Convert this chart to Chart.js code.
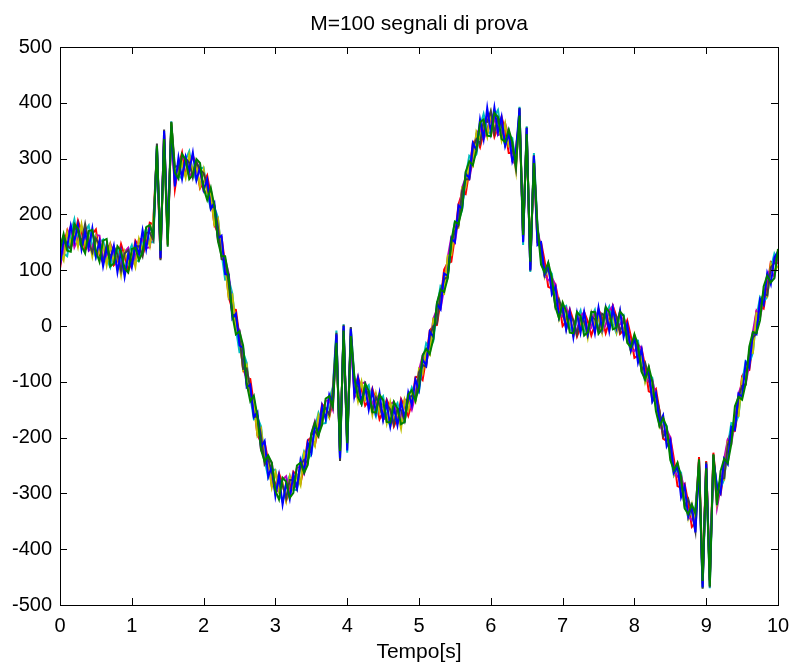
<!DOCTYPE html>
<html><head><meta charset="utf-8">
<script src="https://cdn.jsdelivr.net/npm/chart.js@4.4.1/dist/chart.umd.min.js"></script>
<style>html,body{margin:0;padding:0;background:#fff;}canvas{display:block;}</style>
</head><body>
<canvas id="c" width="792" height="663" style="width:792px;height:663px"></canvas>
<script>
const FONT = "'Liberation Sans', Arial, Helvetica, sans-serif";
const titolo = 'M=100 segnali di prova';
const etichettaX = 'Tempo[s]';
const passo = 0.05; // campionamento del tempo [s]
const tempo = Array.from({length: 201}, (_, i) => Math.round(i * passo * 100) / 100);
const tickX = [0, 1, 2, 3, 4, 5, 6, 7, 8, 9, 10];
const tickY = [-500, -400, -300, -200, -100, 0, 100, 200, 300, 400, 500];

const serieBlu = [
108,155,142,180,151,182,137,168,140,175,125,152,107,139,117,144,96,134,88,128,
105,148,128,172,137,178,164,320,122,350,155,357,250,302,264,303,278,311,261,284,
244,263,210,221,157,162,93,92,13,22,-35,-39,-110,-105,-163,-154,-217,-206,-270,-252,
-305,-268,-320,-281,-310,-266,-290,-240,-260,-209,-228,-178,-190,-143,-167,-123,-140,-15,-237,0,
-223,-5,-125,-93,-136,-108,-150,-116,-155,-120,-168,-137,-180,-146,-178,-136,-165,-119,-142,-96,
-115,-60,-71,-10,-20,40,30,94,90,157,150,216,210,273,265,328,315,370,335,391,
347,392,347,375,323,347,295,315,390,150,355,100,305,145,150,93,112,57,70,16,
37,-6,26,-20,23,-12,25,-14,20,-13,33,-5,32,-9,32,-3,28,-20,3,-43,
-20,-66,-42,-93,-77,-135,-120,-175,-160,-216,-204,-263,-250,-307,-287,-342,-323,-370,-250,-468,
-247,-455,-240,-288,-300,-238,-248,-181,-186,-121,-127,-65,-75,-11,-15,48,38,95,75,123,
133];
const serieVerde = [
138,165,135,133,183,174,144,130,170,172,135,115,153,156,107,112,143,134,103,96,
138,140,118,132,177,181,162,323,135,335,142,365,275,264,308,298,263,271,299,292,
247,226,248,215,152,125,125,87,20,-15,-10,-35,-103,-135,-125,-162,-222,-243,-232,-245,
-295,-311,-272,-279,-308,-299,-250,-245,-263,-249,-193,-173,-196,-177,-130,-126,-145,-30,-224,-8,
-210,-18,-92,-128,-140,-103,-116,-154,-155,-123,-133,-172,-173,-136,-148,-176,-172,-123,-115,-134,
-110,-53,-41,-50,-23,42,65,61,86,152,187,183,210,276,295,288,315,365,370,341,
340,382,374,335,330,352,330,288,377,163,344,115,292,178,110,96,114,87,34,14,
42,26,-12,-13,25,18,-17,-11,25,25,-14,-5,34,25,-6,-3,26,18,-30,-38,
-15,-33,-82,-96,-73,-100,-153,-179,-165,-181,-240,-258,-245,-270,-327,-337,-320,-336,-239,-457,
-255,-466,-230,-321,-260,-238,-246,-211,-144,-127,-132,-103,-37,-11,-13,10,71,90,78,86,
138];
const serieRossa = [
103,145,170,140,158,189,170,136,147,165,173,128,113,136,147,109,116,147,126,98,
115,153,143,127,147,185,182,305,120,345,160,354,245,287,311,270,283,306,286,247,
257,270,235,181,167,160,110,52,30,29,-20,-77,-93,-95,-140,-196,-207,-208,-242,-287,
-285,-264,-282,-313,-293,-261,-267,-282,-250,-205,-200,-213,-183,-140,-147,-163,-135,-35,-220,-14,
-205,-23,-115,-91,-113,-143,-133,-112,-135,-167,-153,-132,-147,-180,-165,-131,-145,-161,-138,-92,
-90,-97,-58,-8,0,2,45,101,113,115,160,218,238,236,278,328,335,320,347,379,
370,339,357,375,350,310,310,318,373,167,338,120,288,150,150,116,70,67,74,41,
0,9,30,10,-19,-2,25,9,-17,2,30,15,-13,8,36,17,-14,-7,10,-18,
-57,-53,-40,-73,-117,-120,-113,-152,-202,-206,-200,-238,-287,-290,-283,-317,-360,-353,-235,-455,
-242,-452,-227,-301,-302,-258,-204,-191,-188,-144,-90,-80,-79,-31,27,35,31,70,115,113,
113];
const serieCiano = [
150,130,125,166,191,152,142,170,180,142,123,150,155,121,105,132,139,107,93,130,
145,118,116,157,175,151,150,325,138,330,162,367,270,270,264,298,313,276,261,282,
284,238,210,213,194,130,83,84,58,-5,-47,-47,-66,-127,-167,-164,-180,-240,-272,-257,
-258,-296,-315,-283,-268,-293,-294,-250,-225,-239,-230,-183,-156,-175,-174,-131,-110,-8,-240,3,
-227,-3,-90,-125,-140,-113,-106,-144,-162,-135,-126,-162,-180,-148,-138,-168,-172,-131,-110,-126,
-117,-65,-31,-40,-27,32,72,69,86,147,187,188,208,268,305,298,308,357,380,351,
343,376,387,345,323,342,337,290,393,145,358,97,310,182,120,89,102,94,42,14,
32,36,-2,-17,13,28,-7,-18,15,29,-4,-12,22,35,4,-13,18,20,-22,-45,
-25,-26,-72,-100,-85,-93,-145,-179,-170,-179,-232,-268,-255,-263,-315,-344,-328,-326,-255,-470,
-258,-470,-243,-284,-290,-275,-216,-174,-176,-161,-102,-63,-67,-48,15,52,43,53,103,130,
118];
const serieMagenta = [
113,135,162,178,141,156,177,163,135,140,163,162,120,126,147,134,103,111,133,140,
108,123,156,155,140,141,187,317,142,342,145,360,255,277,304,296,268,276,296,277,
242,240,245,208,154,132,120,94,23,-1,-7,-49,-106,-125,-130,-169,-222,-236,-235,-245,
-298,-294,-275,-269,-303,-286,-254,-252,-265,-237,-193,-171,-193,-170,-134,-133,-150,-17,-229,-5,
-212,-13,-128,-121,-103,-101,-143,-139,-122,-137,-168,-162,-140,-136,-175,-161,-132,-133,-150,-124,
-80,-53,-68,-35,13,30,30,69,123,159,150,193,248,266,263,298,345,353,335,351,
380,372,342,345,363,340,295,290,382,152,347,102,297,175,138,91,82,87,74,21,
17,32,16,-15,-7,18,25,-11,-3,25,16,-10,2,28,36,-3,3,16,-4,-43,
-45,-33,-40,-93,-100,-97,-127,-177,-190,-186,-200,-258,-270,-267,-297,-342,-348,-333,-242,-462,
-247,-457,-232,-326,-290,-238,-204,-211,-171,-121,-104,-105,-67,-11,27,15,48,93,101,88,
128];
const serieGialla = [
133,118,168,148,171,142,182,146,160,125,160,132,145,109,145,114,126,91,133,113,
128,106,156,137,163,143,190,310,133,332,147,364,280,272,291,266,306,276,286,250,
280,238,238,181,192,130,110,50,56,-3,-17,-79,-70,-127,-137,-196,-184,-238,-242,-289,
-262,-296,-282,-313,-270,-293,-267,-285,-227,-237,-200,-215,-160,-175,-147,-163,-112,-25,-226,-10,
-219,-16,-102,-135,-100,-133,-123,-159,-122,-155,-140,-174,-137,-168,-155,-184,-132,-151,-122,-136,
-77,-85,-45,-52,13,12,58,57,126,127,173,176,248,248,291,286,348,335,363,339,
383,354,370,333,363,322,323,278,388,158,352,110,303,150,138,89,110,62,60,14,
40,4,16,-17,21,-7,11,-21,23,-3,16,-12,30,3,22,-10,26,-12,-4,-45,
-17,-58,-54,-100,-77,-125,-127,-179,-162,-211,-214,-265,-247,-295,-297,-344,-320,-358,-248,-460,
-253,-454,-238,-316,-272,-275,-208,-206,-158,-161,-94,-95,-49,-48,23,20,61,53,111,98,
108];
const serieGrigia = [
140,162,145,138,178,169,150,183,150,132,157,145,115,146,122,142,129,99,130,136,
112,143,143,125,167,168,154,327,118,352,158,366,285,287,268,300,293,266,293,280,
274,253,212,215,177,120,117,77,20,19,-20,-77,-76,-112,-163,-162,-197,-248,-238,-262,
-300,-274,-285,-309,-276,-276,-292,-248,-240,-245,-196,-188,-198,-153,-147,-159,-118,-12,-242,2,
-209,-2,-98,-108,-138,-111,-123,-152,-128,-140,-168,-140,-150,-176,-148,-151,-170,-129,-125,-132,
-83,-70,-73,-18,0,4,62,84,88,149,170,180,242,263,263,320,335,327,367,366,
385,346,374,360,325,344,320,282,391,161,356,99,306,172,135,91,104,77,34,48,
27,-6,20,10,-15,15,8,-16,17,12,-10,22,17,-7,26,17,-10,10,-7,-43,
-23,-43,-80,-66,-90,-135,-123,-152,-198,-189,-217,-263,-253,-280,-323,-310,-333,-368,-241,-471,
-244,-468,-231,-294,-275,-273,-214,-191,-184,-127,-107,-105,-45,-21,-13,42,58,55,105,113,
135];

// ordine di disegno: il primo è in primo piano (come l'ultima curva MATLAB)
const serie = [
  {nome: 'g', valori: serieVerde,   colore: 'rgb(0,128,0)'},
  {nome: 'b', valori: serieBlu,     colore: 'rgb(0,0,255)'},
  {nome: 'k', valori: serieGrigia,  colore: 'rgb(64,64,64)'},
  {nome: 'y', valori: serieGialla,  colore: 'rgb(191,191,0)'},
  {nome: 'm', valori: serieMagenta, colore: 'rgb(191,0,191)'},
  {nome: 'c', valori: serieCiano,   colore: 'rgb(0,191,191)'},
  {nome: 'r', valori: serieRossa,   colore: 'rgb(255,0,0)'}
];

const assiMatlab = {
  id: 'assiMatlab',
  beforeDraw(chart) {
    const ctx = chart.ctx;
    ctx.save();
    ctx.fillStyle = '#fff';
    ctx.fillRect(0, 0, chart.width, chart.height);
    ctx.restore();
  },
  afterDraw(chart) {
    const {ctx, chartArea: a, scales: {x, y}} = chart;
    const L = 7;
    ctx.save();
    ctx.strokeStyle = '#000';
    ctx.lineWidth = 1;
    ctx.beginPath();
    x.ticks.forEach(t => {
      const px = Math.round(x.getPixelForValue(t.value)) + 0.5;
      ctx.moveTo(px, a.bottom); ctx.lineTo(px, a.bottom - L);
      ctx.moveTo(px, a.top); ctx.lineTo(px, a.top + L);
    });
    y.ticks.forEach(t => {
      const py = Math.round(y.getPixelForValue(t.value)) + 0.5;
      ctx.moveTo(a.left, py); ctx.lineTo(a.left + L, py);
      ctx.moveTo(a.right, py); ctx.lineTo(a.right - L, py);
    });
    ctx.stroke();
    ctx.strokeRect(Math.round(a.left) + 0.5, Math.round(a.top) + 0.5,
      Math.round(a.right - a.left), Math.round(a.bottom - a.top));
    ctx.restore();
  }
};

new Chart(document.getElementById('c'), {
  type: 'line',
  data: {
    datasets: serie.map(s => ({
      label: s.nome,
      data: s.valori.map((v, i) => ({x: tempo[i], y: v})),
      borderColor: s.colore,
      borderWidth: 2,
      pointRadius: 0,
      fill: false,
      tension: 0
    }))
  },
  options: {
    responsive: false,
    animation: false,
    events: [],
    layout: {padding: {left: 0, right: 14, top: 0, bottom: 0}},
    plugins: {
      legend: {display: false},
      tooltip: {enabled: false},
      title: {
        display: true, text: titolo, fullSize: false, color: '#000',
        font: {family: FONT, size: 21, weight: 'normal', lineHeight: 1.2},
        padding: {top: 12, bottom: 9.8}
      }
    },
    scales: {
      x: {
        type: 'linear', min: 0, max: 10,
        afterBuildTicks: s => { s.ticks = tickX.map(v => ({value: v})); },
        afterFit: s => { s.height = 58; s.paddingLeft = 0; s.paddingRight = 0; },
        grid: {display: false, drawTicks: false},
        border: {display: false},
        ticks: {padding: 9, color: '#000', autoSkip: false, maxRotation: 0,
          font: {family: FONT, size: 20}, callback: v => String(v)},
        title: {display: true, text: etichettaX, color: '#000',
          font: {family: FONT, size: 21, lineHeight: 1}, padding: {top: 0, bottom: 0}}
      },
      y: {
        type: 'linear', min: -500, max: 500,
        afterBuildTicks: s => { s.ticks = tickY.map(v => ({value: v})); },
        afterFit: s => { s.width = 60; s.paddingTop = 0; s.paddingBottom = 0; },
        grid: {display: false, drawTicks: false},
        border: {display: false},
        ticks: {padding: 8, color: '#000', autoSkip: false,
          font: {family: FONT, size: 20}, callback: v => String(v)}
      }
    }
  },
  plugins: [assiMatlab]
});
</script>
</body></html>
